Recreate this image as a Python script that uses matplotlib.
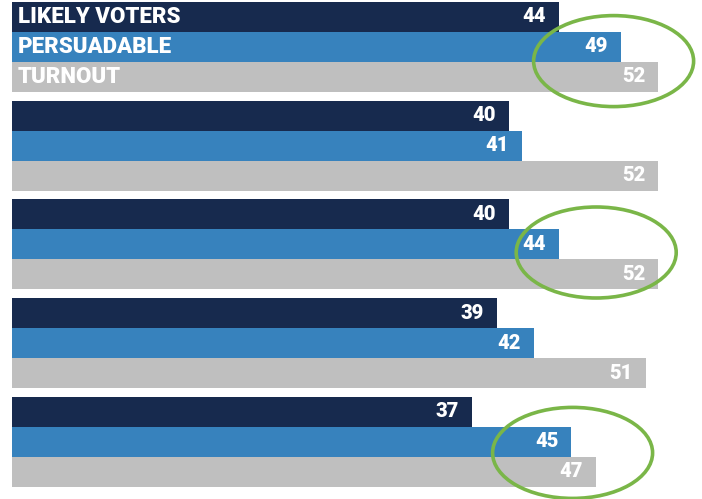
import matplotlib
matplotlib.use("Agg")
import matplotlib.pyplot as plt
from matplotlib.patches import Ellipse

series_names = ["LIKELY VOTERS", "PERSUADABLE", "TURNOUT"]
likely_voters = [44, 40, 40, 39, 37]
persuadable = [49, 41, 44, 42, 45]
turnout = [52, 52, 52, 51, 47]

# groups that get a green circle: (group index, centre x, centre y offset in bars)
circled = [(0, 48.4, 1.97), (2, 47.0, 1.77), (4, 45.1, 1.87)]

COLORS = ["#172a4e", "#3782bd", "#bfbfbf"]
GREEN = "#7ab648"
PX_PER_UNIT = 12.43
BAR_PX = 30.0
GROUP_PITCH = 98.7 / BAR_PX
FONT = ["Roboto", "DejaVu Sans"]

W, H = 702, 499
fig = plt.figure(figsize=(W / 100, H / 100), dpi=100)
left = 12 / W
ax = fig.add_axes([left, 0, 1 - left, 1])
ax.set_xlim(0, (W - 12) / PX_PER_UNIT)
top = -2 / BAR_PX
ax.set_ylim(top + H / BAR_PX, top)
ax.axis("off")

pad = 13 / PX_PER_UNIT
for s, vals in enumerate([likely_voters, persuadable, turnout]):
	for g, v in enumerate(vals):
		y = g * GROUP_PITCH + s + 0.5
		ax.barh(y, v, height=1.0, color=COLORS[s], left=0)
		ax.text(v - pad, y, str(v), ha="right", va="center", color="white",
			fontsize=14.5, fontweight="heavy", family=FONT)
	ax.text(6 / PX_PER_UNIT, s + 0.5, series_names[s], ha="left", va="center",
		color="white", fontsize=16, fontweight="heavy", family=FONT)

for g, cx, cy in circled:
	e = Ellipse((cx, g * GROUP_PITCH + cy), width=160 / PX_PER_UNIT, height=91 / BAR_PX,
		fill=False, edgecolor=GREEN, linewidth=2.6, clip_on=False)
	ax.add_patch(e)

fig.savefig("out.png", dpi=100)
